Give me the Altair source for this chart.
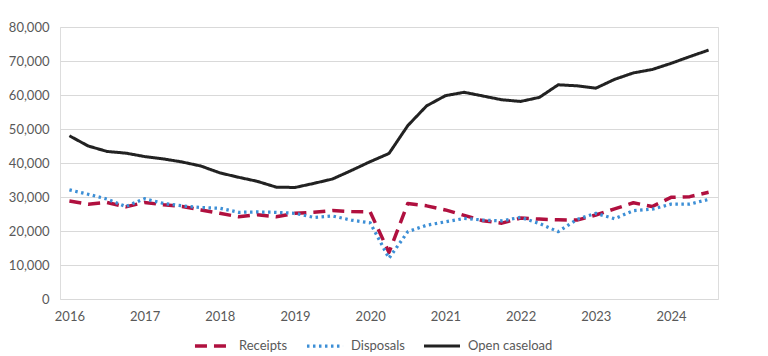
import altair as alt
import pandas as pd

years = [2016, 2017, 2018, 2019, 2020, 2021, 2022, 2023, 2024]
quarters = list(range(35))  # 2016 Q1 .. 2024 Q3

receipts = [28800, 27900, 28400, 27100, 28400, 27700, 27200, 26200, 25200, 24200,
            24800, 24200, 25200, 25500, 26000, 25700, 25600, 13700, 28100, 27400,
            26200, 24600, 23000, 22300, 23800, 23500, 23300, 23200, 24700, 26500,
            28300, 27200, 29900, 30100, 31400]
disposals = [32100, 30800, 29400, 27200, 29500, 28100, 27400, 26900, 26700, 25500,
             25600, 25500, 25200, 24000, 24400, 23200, 22400, 12000, 19800, 21700,
             22700, 23700, 23200, 23000, 24000, 22200, 19800, 23400, 25200, 23600,
             26000, 26400, 27900, 27900, 29300]
open_caseload = [48000, 45000, 43400, 42900, 41900, 41200, 40300, 39100, 37100, 35800,
                 34600, 32900, 32800, 34000, 35300, 37800, 40400, 42800, 51000, 56800,
                 59800, 60800, 59700, 58600, 58100, 59300, 63000, 62700, 62000, 64600,
                 66500, 67500, 69300, 71300, 73200]

series_names = ["Receipts", "Disposals", "Open caseload"]
series_colors = ["#B0103F", "#3D8FD6", "#222222"]
series_dash = [[12, 7], [2.5, 3.5], [1, 0]]
series_width = [3.5, 3, 3]

rows = []
for name, vals in zip(series_names, [receipts, disposals, open_caseload]):
    for q, v in zip(quarters, vals):
        rows.append({"q": q, "series": name, "value": v})
df = pd.DataFrame(rows)

FONT = "Lato"
TXT = "#595959"

def make_legend():
    return alt.Legend(title=None, orient="none", direction="horizontal",
                      legendX=133, legendY=299,
                      symbolType="stroke", symbolSize=1300,
                      symbolStrokeWidth=3, labelFontSize=13,
                      labelColor=TXT, labelFont=FONT,
                      columnPadding=12, labelOffset=6)

chart = alt.Chart(df).mark_line(strokeCap="butt", strokeJoin="round").encode(
    x=alt.X("q:Q",
            scale=alt.Scale(domain=[-0.5, 34.5], nice=False, zero=False),
            axis=alt.Axis(values=[(y - 2016) * 4 for y in years],
                          labelExpr="toString(2016 + datum.value / 4)",
                          grid=False, domain=False, ticks=False, title=None,
                          labelPadding=11, labelFontSize=13, labelColor=TXT,
                          labelFont=FONT)),
    y=alt.Y("value:Q",
            scale=alt.Scale(domain=[0, 80000], nice=False),
            axis=alt.Axis(values=list(range(0, 80001, 10000)),
                          labelExpr="format(datum.value, ',')",
                          grid=True, gridColor="#d9d9d9", gridWidth=1,
                          domain=False, ticks=False, title=None,
                          labelPadding=11, labelFontSize=13, labelColor=TXT,
                          labelFont=FONT)),
    color=alt.Color("series:N",
                    scale=alt.Scale(domain=series_names, range=series_colors),
                    sort=series_names, legend=make_legend()),
    strokeDash=alt.StrokeDash("series:N",
                              scale=alt.Scale(domain=series_names, range=series_dash),
                              sort=series_names, legend=make_legend()),
    strokeWidth=alt.StrokeWidth("series:N",
                                scale=alt.Scale(domain=series_names, range=series_width),
                                legend=None),
    order=alt.Order("q:Q"),
).properties(
    width=658, height=272,
    autosize=alt.AutoSizeParams(type="none"),
    padding={"left": 52, "top": 19, "right": 30, "bottom": 57},
).configure_view(stroke=None).configure(background="white")

chart.save("out.html", embed_options={"renderer": "svg", "actions": False})
